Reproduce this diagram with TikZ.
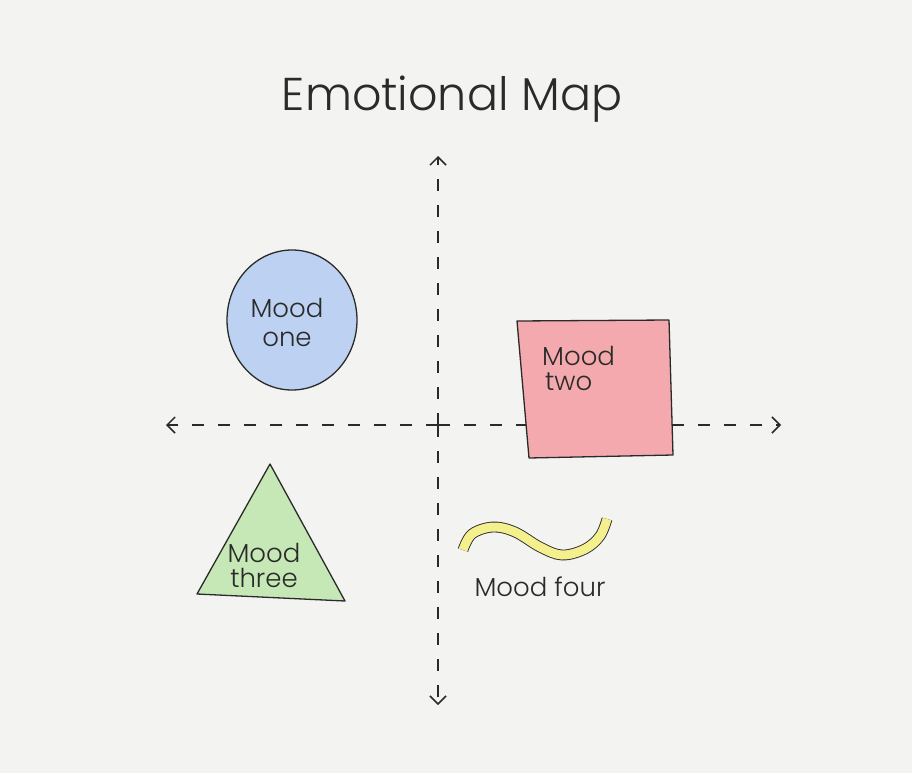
\documentclass[tikz,border=0pt]{standalone}
\usepackage{fontspec}
\setmainfont{Poppins Light}
\usetikzlibrary{arrows.meta}
\definecolor{paper}{HTML}{F3F3F2}
\definecolor{ink}{HTML}{2A2A2A}
\definecolor{moodblue}{HTML}{BDD2F2}
\definecolor{moodred}{HTML}{F3A9AD}
\definecolor{moodgreen}{HTML}{C6E8B6}
\definecolor{moodyellow}{HTML}{F4F08E}
\tikzset{
  axis/.style={draw=ink, line width=1.6pt, dash pattern=on 12pt off 14pt, -{Straight Barb[length=8pt,width=16pt,line width=1.5pt]}},
  shapeline/.style={draw=ink, line width=1.3pt, line join=round},
  lbl/.style={font=\fontsize{26}{26}\selectfont, text=ink, inner sep=0pt},
}
\begin{document}
\begin{tikzpicture}[x=1pt,y=-1pt]
\fill[paper] (0,0) rectangle (912,773);
\useasboundingbox (0,0) rectangle (912,773);
% title
\node[font=\fontsize{46}{48}\selectfont, text=ink, inner sep=0pt] (title) at (452,99) {Emotional Map};
% axes
\coordinate (o) at (438,425);
\coordinate (top) at (438,156);
\coordinate (bot) at (438,705);
\coordinate (left) at (166,425);
\coordinate (right) at (781,425);
\draw[axis] (o) -- (top);
\draw[axis] (o) -- (bot);
\draw[axis] (o) -- (left);
\draw[axis] (o) -- (right);
% mood one: circle
\filldraw[shapeline, fill=moodblue] (292,320) ellipse [x radius=65, y radius=70];
\node[lbl, align=center] (m1) at (287,322) {Mood\\[3pt]one};
% mood two: square
\filldraw[shapeline, fill=moodred] (517,321) -- (669,320) -- (673,455) -- (529,458) -- cycle;
\node[lbl, align=left, anchor=north west] (m2) at (542,346) {Mood\\[-1pt]\hspace*{3pt}two};
% mood three: triangle
\filldraw[shapeline, fill=moodgreen] (270,464) -- (345,601) -- (197,594) -- cycle;
\node[lbl, align=center] (m3) at (264,565) {Mood\\[-1pt]three};
% mood four: squiggle
\draw[draw=ink, line width=0.9pt, double=moodyellow, double distance=9pt, line cap=butt]
  plot[smooth, tension=0.6] coordinates {(463,550) (472,534) (493,527) (515,532) (540,547) (562,555) (585,549) (600,536) (607,519)};
\node[lbl] (m4) at (540,587) {Mood four};
\end{tikzpicture}
\end{document}
